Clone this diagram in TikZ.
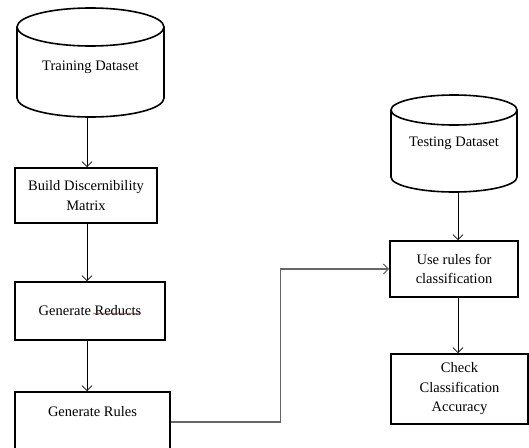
\documentclass[tikz,border=0pt]{standalone}
\usepackage{fontspec}
\setmainfont{Liberation Serif}
\usetikzlibrary{arrows.meta,decorations.pathmorphing}

% database drum around a named node: name, x radius, y radius
\newcommand{\drawdb}[3]{%
  \draw[line width=1.6pt] ([yshift=-#3]#1.north west) -- ([yshift=#3]#1.south west)
    arc[start angle=180, end angle=360, x radius=#2, y radius=#3]
    -- ([yshift=-#3]#1.north east)
    arc[start angle=0, end angle=360, x radius=#2, y radius=#3];}

\begin{document}
\begin{tikzpicture}[x=1pt, y=-1pt,
    box/.style={rectangle, draw, line width=1.6pt, inner sep=2pt, align=center, font=\fontsize{14.5}{19.5}\selectfont},
    db/.style={rectangle, outer sep=0pt, inner sep=0pt, align=center, font=\fontsize{14.5}{19.5}\selectfont},
    arrow/.style={-{Straight Barb[length=5pt,width=10pt]}, line width=0.8pt}
  ]
  \useasboundingbox (0,0) rectangle (529,447);

  \coordinate (col) at (87,0);
  \coordinate (coltwo) at (458,0);

  % left column
  \node[db, minimum width=147pt, minimum height=109pt, text height=19pt, text depth=4pt] (train) at (90.5,62.5) {Training Dataset};
  \drawdb{train}{73.5pt}{19pt}
  \node[box, minimum width=142pt, minimum height=55pt] (build) at (86,195.5) {Build Discernibility\\Matrix};
  \node[box, minimum width=150pt, minimum height=58pt] (reducts) at (90,311) {Generate Reducts};
  \node[box, minimum width=155pt, minimum height=60pt, text height=10pt, text depth=21pt] (rules) at (92.5,422) {Generate Rules};

  % right column
  \node[db, minimum width=126pt, minimum height=97pt] (test) at (454,143.5) {Testing Dataset};
  \drawdb{test}{63pt}{15pt}
  \node[box, minimum width=128pt, minimum height=56pt] (use) at (454,269) {Use rules for\\classification};
  \node[box, minimum width=137pt, minimum height=70pt] (check) at (459.5,389) {Check\\Classification\\Accuracy};

  % spell-check underline
  \draw[red!80!black, line width=0.4pt, decorate, decoration={snake, segment length=2.5pt, amplitude=0.6pt}] (93,313.5) -- (140,313.5);

  \draw[arrow] (train.south -| col) -- (build.north -| col);
  \draw[arrow] (build.south -| col) -- (reducts.north -| col);
  \draw[arrow] (reducts.south -| col) -- (rules.north -| col);
  \draw[arrow, line width=1.2pt, black!60] (rules.east) -- ++(110,0) |- (use.west);
  \draw[arrow] (test.south -| coltwo) -- (use.north -| coltwo);
  \draw[arrow] (use.south -| coltwo) -- (check.north -| coltwo);
\end{tikzpicture}
\end{document}
